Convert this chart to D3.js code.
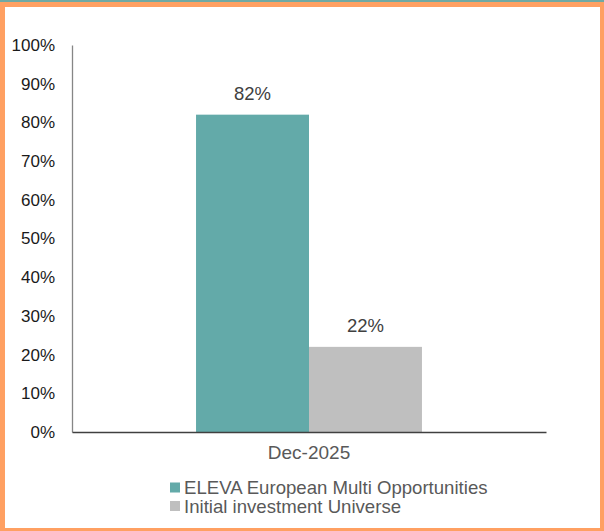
<!DOCTYPE html>
<html><head><meta charset="utf-8">
<script src="https://cdn.jsdelivr.net/npm/d3@7"></script>
<style>html,body{margin:0;padding:0;background:#fff;overflow:hidden}</style>
</head><body>
<script>
const categories = ["Dec-2025"];
const seriesNames = ["ELEVA European Multi Opportunities", "Initial investment Universe"];
const seriesValues = [[82], [22]];
const seriesColors = ["#63aaa9", "#bfbfbf"];
const yTicks = [0, 10, 20, 30, 40, 50, 60, 70, 80, 90, 100];

const W = 604, H = 531;
const svg = d3.select("body").append("svg").attr("width", W).attr("height", H);
// frame
svg.append("rect").attr("x",0).attr("y",0).attr("width",W).attr("height",H).attr("fill","#ffa062");
svg.append("rect").attr("x",0).attr("y",0).attr("width",W).attr("height",2).attr("fill","#6fa9a4");
svg.append("rect").attr("x",5).attr("y",7).attr("width",595).attr("height",521).attr("fill","#fff");

const m = {left:72, right:546, top:45, bottom:432};
const y = d3.scaleLinear().domain([0,100]).range([m.bottom, m.top]);
const x0 = d3.scaleBand().domain(categories).range([m.left, m.right]).paddingInner(0).paddingOuter(0.549);
const x1 = d3.scaleBand().domain(d3.range(seriesNames.length)).range([0, x0.bandwidth()]);

const font = "'Liberation Sans', Arial, sans-serif";
// y axis
const yAxis = d3.axisLeft(y).tickValues(yTicks).tickSize(0).tickPadding(17).tickFormat(d => d + "%");
const gy = svg.append("g").attr("transform", `translate(${m.left},0)`).call(yAxis);
gy.select(".domain").attr("stroke", "#868686").attr("stroke-width", 1.3);
gy.selectAll("text").attr("font-family", font).attr("font-size", 17).attr("fill", "#1a1a1a");

// bars
categories.forEach((c, ci) => {
  seriesValues.forEach((vals, si) => {
    const v = vals[ci];
    const bx = x0(c) + x1(si);
    svg.append("rect").attr("x", bx).attr("y", y(v)).attr("width", x1.bandwidth()).attr("height", y(0) - y(v)).attr("fill", seriesColors[si]);
    svg.append("text").attr("x", bx + x1.bandwidth()/2).attr("y", y(v) - 15)
      .attr("text-anchor","middle").attr("font-family", font).attr("font-size", 18.5).attr("fill","#404040").text(v + "%");
  });
});

// x axis
const xAxis = d3.axisBottom(x0).tickSize(0).tickPadding(14);
const gx = svg.append("g").attr("transform", `translate(0,${m.bottom})`).call(xAxis);
gx.select(".domain").attr("stroke", "#404040").attr("stroke-width", 1.3);
gx.selectAll("text").attr("font-family", font).attr("font-size", 19).attr("fill", "#595959");

// legend
seriesNames.forEach((n, i) => {
  const ly = 487.5 + i * 18.5;
  svg.append("rect").attr("x", 170).attr("y", ly - 5).attr("width", 10).attr("height", 10).attr("fill", seriesColors[i]);
  svg.append("text").attr("x", 184).attr("y", ly).attr("dy", "0.35em").attr("font-family", font).attr("font-size", 18.6).attr("fill", "#595959").text(n);
});
</script>
</body></html>
